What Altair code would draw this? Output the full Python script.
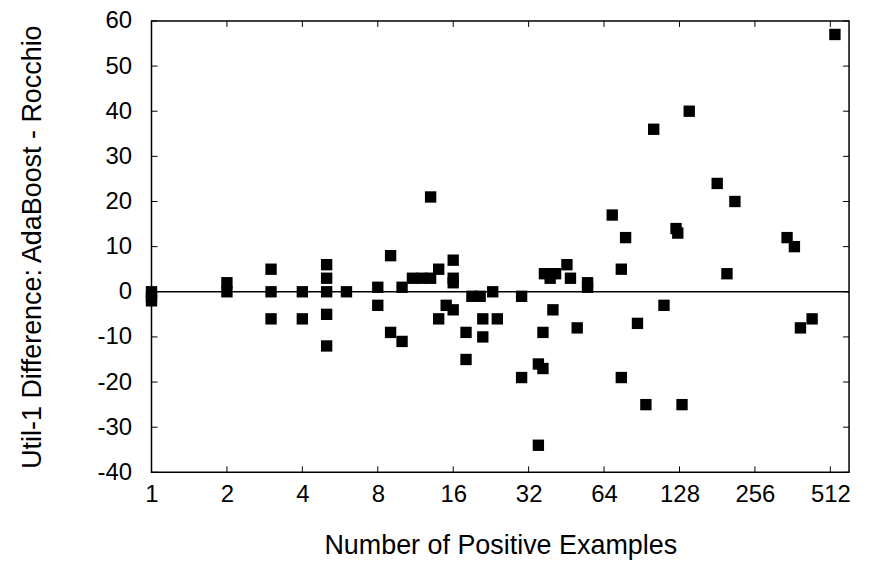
import altair as alt
import pandas as pd

# Number of positive examples (x) and Util-1 difference (y)
n_pos = [1, 1, 1, 2, 2, 3, 3, 3, 4, 4, 5, 5, 5, 5, 5, 6, 8, 8, 9, 9, 10, 10,
         11, 12, 13, 13, 14, 14, 15, 16, 16, 16, 16, 18, 18, 19, 20.5, 21, 21,
         23, 24, 30, 30, 35, 35, 36.5, 36.5, 37, 39, 39, 41, 40, 45.5, 47, 50,
         55, 55, 69, 75, 75, 78, 87, 94, 101, 111, 124, 126, 131, 140, 181,
         198, 213, 344, 368, 389, 433, 534]
diff = [0, -1, -2, 2, 0, 5, 0, -6, 0, -6, 6, 3, 0, -5, -12, 0, 1, -3, 8, -9, 1, -11,
        3, 3, 3, 21, 5, -6, -3, 7, 3, 2, -4, -9, -15, -1, -1, -6, -10,
        0, -6, -1, -19, -16, -34, -17, -9, 4, 4, 3, 4, -4, 6, 3, -8,
        2, 1, 17, 5, -19, 12, -7, -25, 36, -3, 14, 13, -25, 40, 24,
        4, 20, 12, 10, -8, -6, 57]

x_ticks = [1, 2, 4, 8, 16, 32, 64, 128, 256, 512]
y_ticks = [-40, -30, -20, -10, 0, 10, 20, 30, 40, 50, 60]

W, H = 700, 453
FONT = "Liberation Sans"
LFS = 24
TFS = 27

df = pd.DataFrame({"n": n_pos, "d": diff})
xt = pd.DataFrame({"v": x_ticks})
yt = pd.DataFrame({"v": y_ticks})
zero = pd.DataFrame({"v": [0]})

xscale = alt.Scale(type="log", base=2, domain=[1, 608], nice=False)
yscale = alt.Scale(domain=[-40, 60], nice=False, zero=False)

common = dict(grid=False, ticks=False, domain=False,
              labelFont=FONT, labelFontSize=LFS, labelColor="black",
              titleFont=FONT, titleFontSize=TFS, titleFontWeight="normal",
              titleColor="black", labelFlush=False)

xaxis = alt.Axis(values=x_ticks, format="d", title="Number of Positive Examples",
                 labelPadding=10, titlePadding=26, **common)
yaxis = alt.Axis(values=y_ticks, title="Util-1 Difference: AdaBoost - Rocchio",
                 labelExpr="datum.value < 0 ? '-' + abs(datum.value) : '' + datum.value",
                 labelPadding=20, titlePadding=51, **common)

points = alt.Chart(df).mark_square(size=130, color="black", opacity=1).encode(
    x=alt.X("n:Q", scale=xscale, axis=xaxis),
    y=alt.Y("d:Q", scale=yscale, axis=yaxis),
)

zline = alt.Chart(zero).mark_rule(color="black", strokeWidth=1.5).encode(
    y=alt.Y("v:Q", scale=yscale, axis=yaxis), x=alt.value(0), x2=alt.value(W)
)

left_t = alt.Chart(yt).mark_rule(color="black", strokeWidth=1).encode(
    y=alt.Y("v:Q", scale=yscale, axis=yaxis), x=alt.value(0), x2=alt.value(6))
right_t = alt.Chart(yt).mark_rule(color="black", strokeWidth=1).encode(
    y=alt.Y("v:Q", scale=yscale, axis=yaxis), x=alt.value(W - 6), x2=alt.value(W))
bot_t = alt.Chart(xt).mark_rule(color="black", strokeWidth=1).encode(
    x=alt.X("v:Q", scale=xscale, axis=xaxis), y=alt.value(H - 6), y2=alt.value(H))
top_t = alt.Chart(xt).mark_rule(color="black", strokeWidth=1).encode(
    x=alt.X("v:Q", scale=xscale, axis=xaxis), y=alt.value(0), y2=alt.value(6))

chart = alt.layer(points, zline, left_t, right_t, bot_t, top_t).properties(
    width=W, height=H,
    background="white",
    autosize=alt.AutoSizeParams(type="none"),
    padding={"left": 144, "top": 12, "right": 12, "bottom": 89},
).configure_view(stroke="black", strokeWidth=1.5)

chart.save("out.html", embed_options={"renderer": "svg", "actions": False})
